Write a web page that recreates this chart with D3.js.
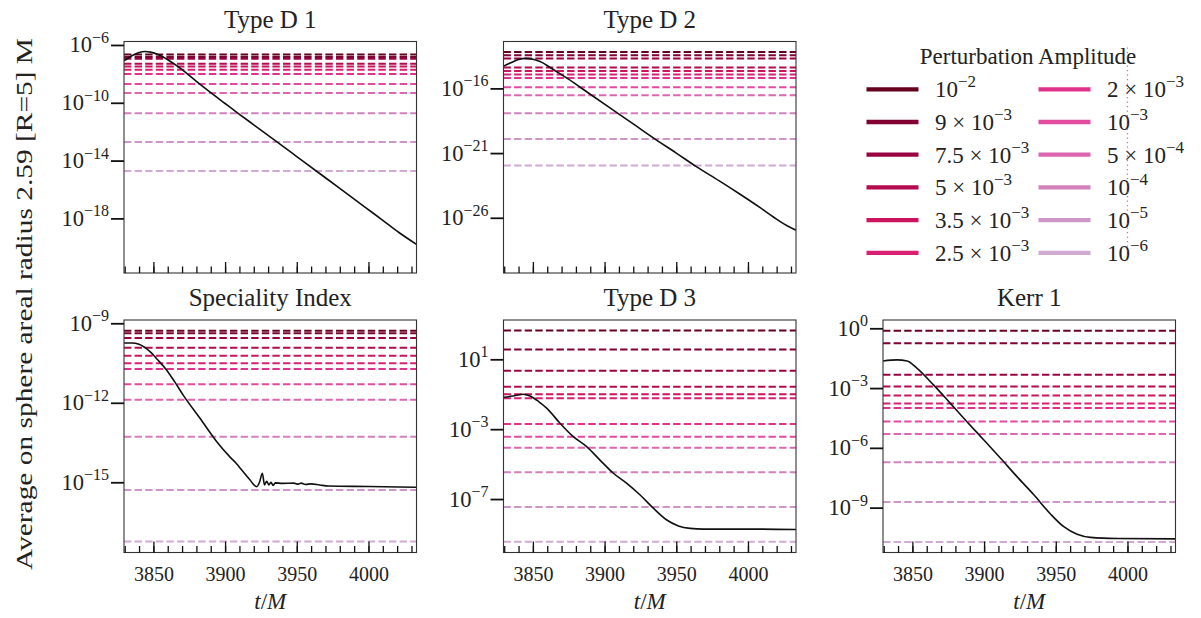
<!DOCTYPE html>
<html>
<head>
<meta charset="utf-8">
<script src="https://cdn.jsdelivr.net/npm/d3@7"></script>
<style>
  html, body { margin: 0; padding: 0; background: #fff; }
  svg { display: block; }
  svg text { font-family: "Liberation Serif", "Times New Roman", serif; }
</style>
</head>
<body>
<svg id="chart" width="1201" height="618"></svg>
<script>
// ---------------- data ----------------
const amplitudeLabels = [
  "10^−2", "9 × 10^−3", "7.5 × 10^−3", "5 × 10^−3", "3.5 × 10^−3", "2.5 × 10^−3",
  "2 × 10^−3", "10^−3", "5 × 10^−4", "10^−4", "10^−5", "10^−6"
];

const timeDomain = [3829.5, 4033.5];
const majorTimeTicks = [3850, 3900, 3950, 4000];
const minorTimeTicks = [3830, 3840, 3850, 3860, 3870, 3880, 3890, 3900, 3910, 3920, 3930,
  3940, 3950, 3960, 3970, 3980, 3990, 4000, 4010, 4020, 4030];

// Type D 1
const typeD1Time  = [3829.5, 3835, 3840, 3844, 3848, 3854, 3860, 3870, 3880, 3890, 3900, 3910,
  3920, 3935, 3950, 3965, 3980, 3998, 4010, 4021, 4033.5];
const typeD1Value = [8.1e-8, 1.8e-7, 3.0e-7, 3.5e-7, 3.2e-7, 2.0e-7, 9.5e-8, 2.0e-8, 3.0e-9,
  5.0e-10, 8.9e-11, 1.6e-11, 3.0e-12, 2.4e-13, 1.9e-14, 1.5e-15, 1.2e-16, 5.6e-18, 7.4e-19,
  1.1e-19, 1.6e-20];
const typeD1Levels = [2.2e-7, 1.5e-7, 1.1e-7, 5.1e-8, 3.2e-8, 1.9e-8, 9.8e-9, 2.0e-9, 4.8e-10,
  1.9e-11, 1.9e-13, 1.9e-15];
const typeD1Ticks = [1e-6, 1e-10, 1e-14, 1e-18];

// Type D 2
const typeD2Time  = [3829.5, 3835, 3840, 3845, 3850, 3855, 3865, 3874, 3890, 3906, 3920, 3934,
  3950, 3964, 3980, 3994.5, 4008, 4018, 4027, 4033.5];
const typeD2Value = [5.2e-15, 1.0e-14, 1.7e-14, 2.1e-14, 1.8e-14, 1.2e-14, 2.5e-15, 5.9e-16,
  3.5e-17, 2.1e-18, 1.8e-19, 1.5e-20, 1.0e-21, 8.9e-23, 7.1e-24, 6.6e-25, 6.6e-26, 1.1e-26,
  2.5e-27, 1.1e-27];
const typeD2Levels = [6.5e-14, 3.7e-14, 2.0e-14, 4.1e-15, 2.2e-15, 1.2e-15, 6.3e-16, 1.2e-16,
  3.0e-17, 1.2e-18, 1.2e-20, 1.1e-22];
const typeD2Ticks = [1e-16, 1e-21, 1e-26];

// Speciality Index
const specialityTime  = [3829.5, 3835, 3840, 3847.6, 3853, 3859.3, 3865, 3870.9, 3882.5, 3894.2,
  3903.5, 3908, 3911.6, 3917, 3922, 3924, 3926, 3927.5, 3929, 3930.5, 3932, 3933.5, 3935, 3940,
  3948, 3951, 3953, 3956, 3960, 3966, 3972, 4000, 4033.5];
const specialityValue = [1.8e-10, 1.8e-10, 1.6e-10, 8.5e-11, 4.2e-11, 1.7e-11, 6.0e-12, 1.9e-12,
  2.6e-13, 3.4e-14, 8.9e-15, 5.0e-15, 2.9e-15, 1.3e-15, 6.8e-16, 1.0e-15, 2.2e-15, 7.9e-16,
  1.1e-15, 7.9e-16, 1.0e-15, 7.6e-16, 9.5e-16, 9.1e-16, 9.3e-16, 8.5e-16, 9.3e-16, 8.3e-16,
  8.7e-16, 7.9e-16, 7.2e-16, 6.9e-16, 6.5e-16];
const specialityLevels = [5.2e-10, 4.2e-10, 2.8e-10, 1.2e-10, 6.0e-11, 3.1e-11, 1.9e-11, 5.0e-12,
  1.3e-12, 5.2e-14, 5.1e-16, 5.8e-18];
const specialityTicks = [1e-9, 1e-12, 1e-15];

// Type D 3
const typeD3Time  = [3829.5, 3836, 3843.3, 3848, 3854, 3859.6, 3868.9, 3878.2, 3887.5, 3896.8,
  3906.1, 3915.5, 3924.8, 3934, 3943.4, 3951.5, 3959.6, 3969, 4003.8, 4033.5];
const typeD3Value = [6.7e-2, 7.9e-2, 1.0e-1, 7.9e-2, 3.8e-2, 1.6e-2, 2.2e-3, 3.7e-4, 1.0e-4,
  1.7e-5, 3.0e-6, 7.9e-7, 1.7e-7, 3.0e-8, 6.3e-9, 2.9e-9, 2.1e-9, 1.9e-9, 1.9e-9, 1.8e-9];
const typeD3Levels = [440, 37, 2.2, 0.27, 0.10, 0.059, 2.0e-3, 3.7e-4, 8.7e-5, 3.4e-6, 3.5e-8,
  3.6e-10];
const typeD3Ticks = [1e1, 1e-3, 1e-7];

// Kerr 1
const kerr1Time  = [3829.5, 3839.3, 3846.3, 3853.3, 3864.9, 3876.5, 3888.2, 3899.8, 3911.5,
  3923.1, 3934.7, 3946.3, 3955.6, 3964.9, 3974.2, 3992.8, 4033.5];
const kerr1Value = [2.3e-2, 2.6e-2, 2.3e-2, 9.8e-3, 1.4e-3, 1.7e-4, 2.0e-5, 2.5e-6, 3.0e-7,
  3.5e-8, 4.4e-9, 4.8e-10, 1.1e-10, 4.6e-11, 3.2e-11, 2.8e-11, 2.7e-11];
const kerr1Levels = [0.76, 0.18, 4.6e-3, 1.2e-3, 4.2e-4, 1.7e-4, 1.0e-4, 2.1e-5, 5.0e-6, 1.9e-7,
  1.9e-9, 1.9e-11];
const kerr1Ticks = [1e0, 1e-3, 1e-6, 1e-9];

// reference time marked in the (empty) legend cell
const markerTime = [4000];

// ---------------- layout ----------------
const colLeft  = [124, 503.5, 883];
const colWidth = 292.5;
const rowTop   = [41.5, 320];
const rowHeight = [231.5, 232.5];

const panels = [
  { title: "Type D 1", col: 0, row: 0, time: typeD1Time, value: typeD1Value, levels: typeD1Levels,
    ticks: typeD1Ticks, yDomain: [1.66e-22, 1.74e-6], xLabels: false },
  { title: "Type D 2", col: 1, row: 0, time: typeD2Time, value: typeD2Value, levels: typeD2Levels,
    ticks: typeD2Ticks, yDomain: [5.4e-31, 4.2e-13], xLabels: false },
  { title: "Speciality Index", col: 0, row: 1, time: specialityTime, value: specialityValue,
    levels: specialityLevels, ticks: specialityTicks, yDomain: [2.24e-18, 1.33e-9], xLabels: true },
  { title: "Type D 3", col: 1, row: 1, time: typeD3Time, value: typeD3Value, levels: typeD3Levels,
    ticks: typeD3Ticks, yDomain: [8.7e-11, 1780], xLabels: true },
  { title: "Kerr 1", col: 2, row: 1, time: kerr1Time, value: kerr1Value, levels: kerr1Levels,
    ticks: kerr1Ticks, yDomain: [5.6e-12, 2.61], xLabels: true }
];

// PuRd ramp, darkest for the largest amplitude
const colors = amplitudeLabels.map((_, i) => d3.interpolatePuRd(1 - i * 0.7 / (amplitudeLabels.length - 1)));

const svg = d3.select("#chart");

function powerText(sel, label, baseSize, supSize, supShift) {
  const parts = label.split("^");
  sel.append("tspan").text(parts[0]).attr("font-size", baseSize);
  if (parts.length > 1) {
    sel.append("tspan").text(parts[1]).attr("font-size", supSize).attr("dy", -supShift);
  }
}

function expLabel(v) {
  const e = Math.round(Math.log10(v));
  return "10^" + (e < 0 ? "−" + (-e) : String(e));
}

panels.forEach(p => {
  const x0 = colLeft[p.col], x1 = x0 + colWidth;
  const y0 = rowTop[p.row], y1 = y0 + rowHeight[p.row];
  const x = d3.scaleLinear().domain(timeDomain).range([x0, x1]);
  const y = d3.scaleLog().domain(p.yDomain).range([y1, y0]);

  const g = svg.append("g");
  const clipId = "clip-" + p.col + "-" + p.row;
  g.append("clipPath").attr("id", clipId)
    .append("rect").attr("x", x0).attr("y", y0).attr("width", x1 - x0).attr("height", y1 - y0);

  const plot = g.append("g").attr("clip-path", `url(#${clipId})`);

  // perturbation levels
  plot.selectAll("line.level").data(p.levels).join("line")
    .attr("class", "level")
    .attr("x1", x(timeDomain[0])).attr("x2", x(timeDomain[1]))
    .attr("y1", d => y(d)).attr("y2", d => y(d))
    .attr("stroke", (d, i) => colors[i])
    .attr("stroke-width", 2)
    .attr("stroke-dasharray", "7.4,3.2");

  // measured quantity
  const pts = p.time.map((t, i) => [t, p.value[i]]);
  plot.append("path")
    .datum(pts)
    .attr("fill", "none")
    .attr("stroke", "#111")
    .attr("stroke-width", 1.6)
    .attr("d", d3.line().x(d => x(d[0])).y(d => y(d[1])).curve(d3.curveMonotoneX));

  // frame
  g.append("rect").attr("x", x0).attr("y", y0).attr("width", x1 - x0).attr("height", y1 - y0)
    .attr("fill", "none").attr("stroke", "#333").attr("stroke-width", 1.1);

  // x ticks (inward)
  const xMinor = g.append("g").attr("transform", `translate(0,${y1})`)
    .call(d3.axisBottom(x).tickValues(minorTimeTicks).tickSize(-6.5).tickFormat(""));
  const xMajor = g.append("g").attr("transform", `translate(0,${y1})`)
    .call(d3.axisBottom(x).tickValues(majorTimeTicks).tickSize(-11).tickPadding(14)
      .tickFormat(p.xLabels ? d3.format("d") : ""));
  [xMinor, xMajor].forEach(a => {
    a.select(".domain").remove();
    a.attr("font-family", null);
    a.selectAll(".tick line").attr("stroke", "#111").attr("stroke-width", 1.3);
  });
  xMajor.selectAll(".tick text").attr("font-size", 20).attr("fill", "#222");

  // y ticks (outward) with power-of-ten labels
  const yAxis = g.append("g").attr("transform", `translate(${x0},0)`)
    .call(d3.axisLeft(y).tickValues(p.ticks).tickSize(13).tickFormat(""));
  yAxis.select(".domain").remove();
  yAxis.selectAll(".tick line").attr("stroke", "#111").attr("stroke-width", 1.8);
  p.ticks.forEach(v => {
    const t = g.append("text")
      .attr("x", x0 - 15).attr("y", y(v) + 7.5)
      .attr("text-anchor", "end").attr("fill", "#222");
    powerText(t, expLabel(v), 22.5, 16, 9.5);
  });

  // title
  g.append("text")
    .attr("x", (x0 + x1) / 2).attr("y", y0 - 14)
    .attr("text-anchor", "middle").attr("font-size", 25).attr("fill", "#222")
    .text(p.title);

  // x label
  if (p.xLabels) {
    const lab = g.append("text")
      .attr("x", (x0 + x1) / 2).attr("y", y1 + 56)
      .attr("text-anchor", "middle").attr("font-size", 23).attr("fill", "#222");
    lab.append("tspan").attr("font-style", "italic").text("t");
    lab.append("tspan").text("/");
    lab.append("tspan").attr("font-style", "italic").text("M");
  }
});

// legend in the empty top-right cell
{
  const leg = svg.append("g");
  leg.append("text").attr("x", 1028).attr("y", 64).attr("text-anchor", "middle")
    .attr("font-size", 23).attr("fill", "#222").text("Perturbation Amplitude");

  const colX = [866.5, 1038.5];
  const rowY0 = 89.3, rowStep = 32.7;
  amplitudeLabels.forEach((lab, i) => {
    const c = Math.floor(i / 6), r = i % 6;
    const yy = rowY0 + r * rowStep;
    leg.append("line")
      .attr("x1", colX[c]).attr("x2", colX[c] + 52)
      .attr("y1", yy).attr("y2", yy)
      .attr("stroke", colors[i]).attr("stroke-width", 4.3);
    const t = leg.append("text")
      .attr("x", colX[c] + 68.5).attr("y", yy + 8)
      .attr("fill", "#222");
    powerText(t, lab, 23, 17, 10);
  });

  // reference time marker of the hidden cell, drawn over the legend
  const x0 = colLeft[2], x1 = x0 + colWidth;
  const y0 = rowTop[0], y1 = y0 + rowHeight[0];
  const x = d3.scaleLinear().domain(timeDomain).range([x0, x1]);
  svg.selectAll("line.marker").data(markerTime).join("line")
    .attr("class", "marker")
    .attr("x1", d => x(d)).attr("x2", d => x(d))
    .attr("y1", y0 + 6).attr("y2", y1 - 10)
    .attr("stroke", "#e7298a").attr("stroke-width", 1.3)
    .attr("stroke-dasharray", "1.3,3.2").attr("opacity", 0.75);
}

// shared y label
svg.append("text")
  .attr("transform", "translate(32,304) rotate(-90)")
  .attr("text-anchor", "middle")
  .attr("font-size", 24).attr("fill", "#222")
  .attr("textLength", 532).attr("lengthAdjust", "spacingAndGlyphs")
  .text("Average on sphere areal radius 2.59 [R=5] M");
</script>
</body>
</html>
